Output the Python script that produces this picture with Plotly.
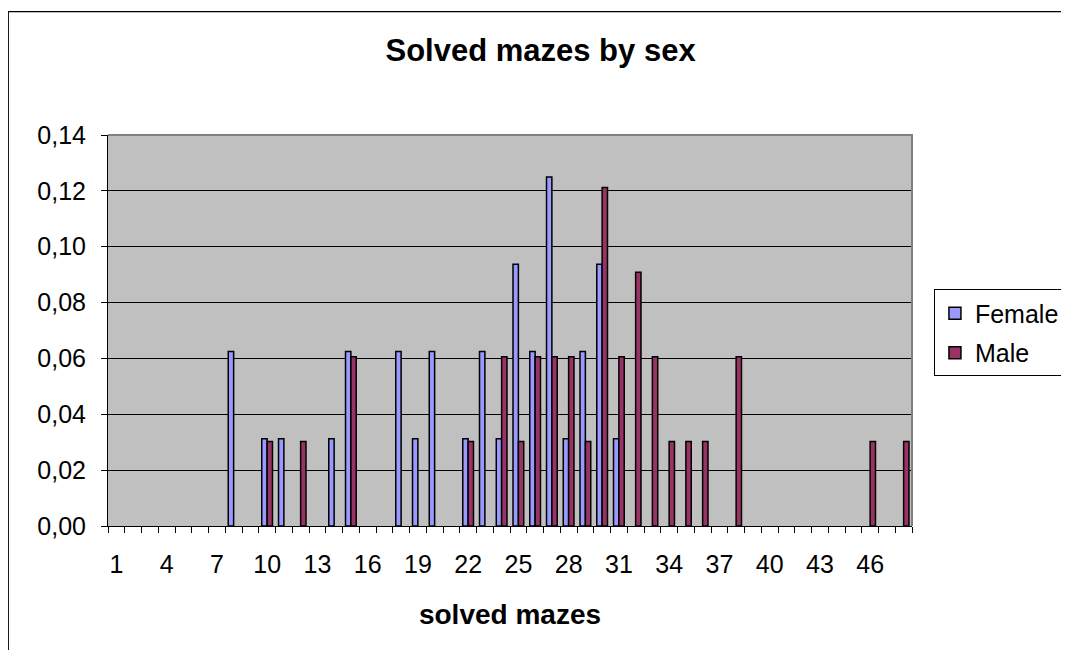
import plotly.graph_objects as go

categories = [1, 2, 3, 4, 5, 6, 7, 8, 9, 10, 11, 12, 13, 14, 15, 16,
              17, 18, 19, 20, 21, 22, 23, 24, 25, 26, 27, 28, 29, 30, 31, 32,
              33, 34, 35, 36, 37, 38, 39, 40, 41, 42, 43, 44, 45, 46, 47, 48]

female = [0, 0, 0, 0, 0, 0, 0, 0.0625, 0, 0.03125, 0.03125, 0, 0, 0.03125, 0.0625, 0,
          0, 0.0625, 0.03125, 0.0625, 0, 0.03125, 0.0625, 0.03125, 0.09375, 0.0625, 0.125, 0.03125, 0.0625, 0.09375, 0.03125, 0,
          0, 0, 0, 0, 0, 0, 0, 0, 0, 0, 0, 0, 0, 0, 0, 0]

male = [0, 0, 0, 0, 0, 0, 0, 0, 0, 0.0303, 0, 0.0303, 0, 0, 0.0606, 0,
        0, 0, 0, 0, 0, 0.0303, 0, 0.0606, 0.0303, 0.0606, 0.0606, 0.0606, 0.0303, 0.1212, 0.0606, 0.0909,
        0.0606, 0.0303, 0.0303, 0.0303, 0, 0.0606, 0, 0, 0, 0, 0, 0, 0, 0.0303, 0, 0.0303]

x_tick_labels = [1, 4, 7, 10, 13, 16, 19, 22, 25, 28, 31, 34, 37, 40, 43, 46]
y_ticks = [0.00, 0.02, 0.04, 0.06, 0.08, 0.10, 0.12, 0.14]

FONT = "Liberation Sans, Arial, sans-serif"

# page body has an 8px margin; plot area in page coords: x 108-914, y 134.5-525.7
L, T = 100, 126.5
PW, PH = 806, 391.2
W, H = 1069, 650


def nz(vals):
    return [v if v else None for v in vals]


fig = go.Figure()
fig.add_trace(go.Bar(x=categories, y=nz(female), name="Female", legendgroup="f",
                     marker=dict(color="#9999FF", line=dict(color="black", width=1.5))))
fig.add_trace(go.Bar(x=categories, y=nz(male), name="Male", legendgroup="m",
                     marker=dict(color="#993366", line=dict(color="black", width=1.5))))
# invisible companion trace so the label axis (x2) is drawn
fig.add_trace(go.Scatter(x=categories, y=[None] * len(categories), xaxis="x2", yaxis="y",
                         mode="markers", showlegend=False, hoverinfo="skip"))

fig.update_layout(
    width=W, height=H,
    margin=dict(l=L, r=W - L - PW, t=T, b=H - T - PH, pad=0),
    paper_bgcolor="white",
    plot_bgcolor="#C0C0C0",
    barmode="group",
    bargap=0.36,
    bargroupgap=0,
    separators=",.",
    font=dict(family=FONT, color="black", size=25),
    title=dict(text="<b>Solved mazes by sex</b>", font=dict(size=31, family=FONT, color="black"),
               xref="paper", x=0.538, xanchor="center",
               yref="container", y=1 - 42 / H, yanchor="middle"),
    legend=dict(x=(928 - L) / PW, xanchor="left", y=(T + PH - 281) / PH, yanchor="top",
                bgcolor="white", bordercolor="black", borderwidth=1,
                font=dict(size=25, family=FONT, color="black"),
                itemwidth=30, traceorder="grouped", tracegroupgap=4),
    showlegend=True,
)

tick_bounds = [c - 0.5 for c in categories] + [48.5]

fig.update_layout(
    xaxis=dict(
        range=[0.5, 48.5],
        tickmode="array", tickvals=tick_bounds, showticklabels=False,
        ticks="outside", ticklen=6, tickcolor="black", tickwidth=1,
        showgrid=False, zeroline=False,
        showline=True, linecolor="black", linewidth=1,
        title=dict(text="<b>solved mazes</b>", font=dict(size=28, family=FONT, color="black"), standoff=72),
    ),
    xaxis2=dict(
        overlaying="x", anchor="y", side="bottom",
        range=[0.5, 48.5],
        tickmode="array", tickvals=x_tick_labels, ticktext=[str(v) for v in x_tick_labels],
        ticks="", showgrid=False, zeroline=False, showline=False,
        tickfont=dict(size=25, family=FONT, color="black"),
        ticklabelstandoff=21,
    ),
)

fig.update_yaxes(
    range=[0, 0.14],
    tickmode="array", tickvals=y_ticks, tickformat=".2f",
    ticks="outside", ticklen=6, tickcolor="black", tickwidth=1,
    showgrid=True, gridcolor="black", gridwidth=1,
    zeroline=False,
    showline=True, linecolor="black", linewidth=1,
    tickfont=dict(size=25, family=FONT, color="black"),
    ticklabelstandoff=10,
)

# plot-area border (top and right, grey like the original)
fig.add_shape(type="path", xref="paper", yref="paper",
              path="M 0 1 L 1 1 L 1 0", line=dict(color="#808080", width=2))
# outer chart-area border
fig.add_shape(type="rect", xref="paper", yref="paper",
              x0=(0 - L) / PW, x1=1.5, y0=-0.6, y1=(T + PH - 3) / PH,
              line=dict(color="black", width=1.3), fillcolor="rgba(0,0,0,0)", layer="below")

fig.write_html("out.html")
